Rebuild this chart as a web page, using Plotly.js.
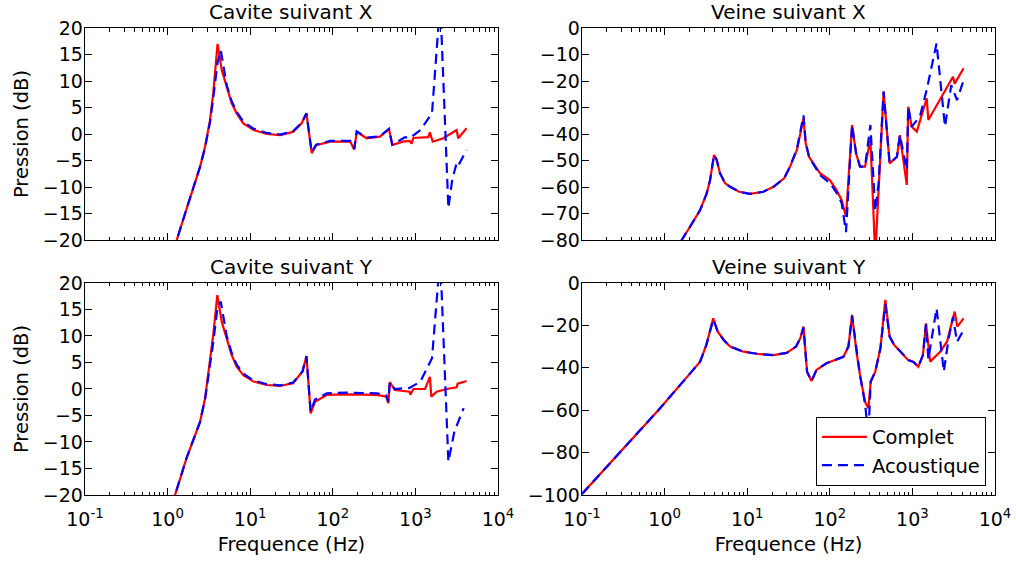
<!DOCTYPE html>
<html>
<head>
<meta charset="utf-8">
<script src="https://cdn.plot.ly/plotly-3.0.1.min.js"></script>
<style>html,body{margin:0;padding:0;background:#fff;overflow:hidden;}#chart{width:1016px;height:568px;}</style>
</head>
<body>
<div id="chart"></div>
<script>
// ---------- Data ----------
// Cavite suivant X
var cavX_f_complet = [1.0, 1.29, 1.7, 2.05, 2.47, 2.84, 3.26, 3.57, 3.85, 4.03, 4.52, 5.2, 5.97, 6.86, 8.26, 11, 15.9, 23, 33, 42, 48, 55.6, 63, 93, 163, 182, 195, 257, 372, 480, 525, 705, 850, 900, 945, 1430, 1500, 1620, 2180, 3160, 3300, 4170];
var cavX_complet   = [-25, -20, -14.1, -10.1, -6.2, -2.4, 2.6, 7.7, 13.3, 17.0, 12.1, 8.9, 5.8, 3.9, 2.0, 0.75, 0.0, -0.2, 0.4, 2.0, 3.9, -3.6, -2.1, -1.45, -1.45, -2.9, 0.4, -0.8, -0.5, 0.9, -2.1, -1.45, -1.3, -1.8, -0.75, -0.6, 0.3, -1.45, -0.8, 0.75, -0.8, 1.1];
var cavX_f_acoust  = [1.0, 1.29, 1.7, 2.05, 2.47, 2.84, 3.26, 3.57, 3.85, 4.03, 4.4, 4.8, 5.2, 5.97, 6.86, 8.26, 11, 15.9, 23, 33, 42, 48, 55.6, 63, 93, 163, 182, 195, 257, 372, 480, 525, 750, 850, 1150, 1590, 2000, 2510, 2800, 3160, 3300, 4170];
var cavX_acoust    = [-25, -20, -14.1, -10.1, -6.2, -2.6, 2.2, 6.8, 11.0, 13.5, 15.8, 12.5, 9.2, 6.2, 4.2, 2.3, 1.0, 0.2, -0.1, 0.5, 2.1, 3.9, -3.4, -2.0, -1.3, -1.3, -2.8, 0.5, -0.7, -0.4, 1.0, -2.0, -0.6, -0.8, 0.75, 3.9, 25, -14, -8.5, -5.5, -6.0, -3.0];

// Veine suivant X
var veiX_f_complet = [1.3, 1.61, 2.03, 2.69, 3.23, 3.55, 3.96, 4.27, 4.68, 5.4, 6.2, 8.0, 10.8, 15.7, 20.8, 28, 33, 40, 44, 48, 51, 56, 76, 100, 120, 139, 157, 186, 208, 232, 267, 310, 355, 390, 448, 530, 650, 705, 855, 890, 980, 1130, 1490, 1560, 2240, 3100, 3250, 4170];
var veiX_complet   = [-86, -80, -75, -68.7, -62.4, -57.4, -47.9, -49.8, -54.8, -58.6, -59.9, -61.8, -62.6, -61.8, -59.9, -56.7, -52.3, -46, -39.7, -34, -43.5, -48.6, -54.8, -57.4, -61.1, -64.9, -71.2, -36.6, -47.3, -52.3, -52.3, -42, -86, -58.6, -24, -51.1, -48.6, -40.4, -59.2, -29.7, -37.2, -39.1, -26.5, -34.7, -25.9, -18.4, -21, -15.2];
var veiX_f_acoust  = [1.3, 1.61, 2.03, 2.69, 3.23, 3.55, 3.96, 4.27, 4.68, 5.4, 6.2, 8.0, 10.8, 15.7, 20.8, 28, 33, 40, 44, 48, 51, 56, 76, 100, 120, 139, 157, 186, 208, 232, 267, 310, 355, 390, 448, 530, 650, 705, 855, 890, 980, 1230, 1490, 1960, 2480, 2950, 3470, 4170];
var veiX_acoust    = [-86, -80, -75, -68.7, -62.4, -57.4, -47.9, -49.8, -54.8, -58.6, -59.9, -61.8, -62.6, -61.8, -59.9, -56.7, -52.3, -45.5, -39, -33, -43, -48.6, -55.5, -58.5, -62, -66, -77, -36.6, -47.3, -52.3, -52.3, -36.6, -69, -58.6, -24, -51.1, -48.6, -40.4, -53.5, -29.7, -37.2, -33.5, -23.3, -5.8, -37.2, -21.6, -27.2, -19.7];

// Cavite suivant Y
var cavY_f_complet = [1.0, 1.23, 1.7, 2.05, 2.47, 2.84, 3.1, 3.57, 3.85, 4.0, 4.52, 5.2, 5.97, 6.86, 8.26, 11, 15.9, 23, 33, 43, 48, 54, 61, 85, 148, 340, 445, 470, 490, 565, 850, 870, 945, 1310, 1500, 1560, 1810, 2400, 3160, 3250, 4170];
var cavY_complet   = [-25, -20, -13.0, -9.5, -6.2, -1.8, 2.6, 10.2, 15.2, 17.7, 12.7, 9.6, 6.4, 4.2, 2.6, 1.4, 0.75, 0.57, 1.1, 3.3, 6.2, -4.6, -2.4, -1.1, -1.0, -1.1, -1.45, -2.7, 1.3, -0.2, -0.5, -1.1, 0.0, 0.0, 2.3, -1.45, -0.5, 0.0, 0.3, 1.0, 1.5];
var cavY_f_acoust  = [1.0, 1.23, 1.7, 2.05, 2.47, 2.84, 3.1, 3.57, 3.85, 4.0, 4.4, 4.8, 5.2, 5.97, 6.86, 8.26, 11, 15.9, 23, 33, 43, 48, 54, 61, 85, 148, 340, 445, 470, 490, 565, 850, 1150, 1590, 2000, 2510, 2970, 3850];
var cavY_acoust    = [-25, -20, -13.0, -9.5, -6.2, -2.0, 2.0, 8.8, 13.0, 15.0, 16.5, 13.0, 10.0, 6.8, 4.6, 2.9, 1.6, 0.9, 0.7, 1.2, 3.3, 6.2, -4.3, -2.0, -0.8, -0.7, -0.8, -1.2, -2.4, 1.2, 0.0, 0.2, 1.4, 5.8, 25, -13.7, -8.0, -3.6];

// Veine suivant Y
var veiY_f_complet = [0.1, 0.3, 0.88, 2.0, 2.69, 3.2, 3.54, 3.88, 4.4, 5.2, 6.2, 9.0, 14.3, 20.8, 30, 39, 44, 48, 53, 60, 69, 91, 146, 168, 186, 210, 232, 267, 293, 313, 355, 410, 470, 530, 600, 785, 890, 1030, 1180, 1340, 1460, 1640, 2170, 2620, 3250, 3500, 4170];
var veiY_complet   = [-99.5, -79, -59.1, -43, -37.1, -29.2, -23, -16.7, -23, -26.9, -30, -32.4, -33.6, -34, -33, -30, -26, -20.6, -41.8, -46.2, -41, -37.9, -34.8, -30, -15.1, -32.4, -43.4, -56, -59.1, -46.5, -41.8, -30.8, -8, -25.3, -29.2, -34, -36.4, -37.3, -39.5, -34, -19, -37.1, -32.4, -27.7, -13.5, -20.6, -16.7];
var veiY_f_acoust  = [0.1, 0.3, 0.88, 2.0, 2.69, 3.2, 3.54, 3.88, 4.4, 5.2, 6.2, 9.0, 14.3, 20.8, 30, 39, 44, 48, 53, 60, 69, 91, 146, 168, 186, 210, 232, 267, 293, 313, 355, 410, 470, 530, 600, 785, 890, 1030, 1180, 1340, 1460, 1560, 1960, 2400, 2750, 3100, 3470, 4170];
var veiY_acoust    = [-99.5, -79, -59.1, -43, -37.1, -29.2, -23, -17.2, -23, -26.9, -30, -32.4, -33.6, -34, -33, -30, -26, -21, -41.8, -46.2, -41, -37.9, -34.8, -30, -15.5, -32.4, -43.4, -57, -72, -46.5, -41.8, -30.8, -10, -25.3, -29.2, -34, -36.4, -37.3, -39.5, -34, -19.5, -36, -11.9, -41.8, -26, -16, -27.8, -22.2];

var panelTitles = ['Cavite suivant X', 'Veine suivant X', 'Cavite suivant Y', 'Veine suivant Y'];
var seriesNames = ['Complet', 'Acoustique'];
var xTickVals = [0.1, 1, 10, 100, 1000, 10000];
var xTickText = ['10<sup>-1</sup>', '10<sup>0</sup>', '10<sup>1</sup>', '10<sup>2</sup>', '10<sup>3</sup>', '10<sup>4</sup>'];
var xTitle = 'Frequence (Hz)';
var yTitle = 'Pression (dB)';

// ---------- Build ----------
var minorVals = [];
for (var d = -1; d < 4; d++) { for (var k = 2; k <= 9; k++) { minorVals.push(k * Math.pow(10, d)); } }

var redLine = {color: '#ff0000', width: 2.2};
var blueLine = {color: '#0000ff', width: 2.2, dash: '10px,6px'};

var panels = [
  [cavX_f_complet, cavX_complet, cavX_f_acoust, cavX_acoust, 'x', 'y'],
  [veiX_f_complet, veiX_complet, veiX_f_acoust, veiX_acoust, 'x2', 'y2'],
  [cavY_f_complet, cavY_complet, cavY_f_acoust, cavY_acoust, 'x3', 'y3'],
  [veiY_f_complet, veiY_complet, veiY_f_acoust, veiY_acoust, 'x4', 'y4']
];
var traces = [];
panels.forEach(function (p, i) {
  var leg = (i === 3);
  traces.push({x: p[0], y: p[1], xaxis: p[4], yaxis: p[5], type: 'scatter', mode: 'lines',
    line: redLine, name: seriesNames[0], showlegend: leg, legendgroup: 'c'});
  traces.push({x: p[2], y: p[3], xaxis: p[4], yaxis: p[5], type: 'scatter', mode: 'lines',
    line: blueLine, name: seriesNames[1], showlegend: leg, legendgroup: 'a'});
});

var FONT = 'DejaVu Sans, sans-serif';
var TICK = {family: FONT, size: 19, color: '#000'};
var LABEL = {family: FONT, size: 19.5, color: '#000'};
function xAxis(domain, anchor, labels) {
  return {
    type: 'log', range: [-1, 4], domain: domain, anchor: anchor,
    showline: true, linecolor: '#000', linewidth: 1.3, mirror: 'allticks',
    ticks: 'inside', ticklen: 7, tickwidth: 1, tickcolor: '#000',
    tickmode: 'array', tickvals: xTickVals, ticktext: xTickText,
    showticklabels: labels, showgrid: false, zeroline: false,
    tickfont: TICK, ticklabelstandoff: 7,
    minor: {tickmode: 'array', tickvals: minorVals, ticks: 'inside', ticklen: 3.5, tickwidth: 1, tickcolor: '#000', showgrid: false},
    title: labels ? {text: xTitle, font: LABEL, standoff: 8} : {text: ''}
  };
}
function yAxis(domain, anchor, range, dtick, withTitle) {
  return {
    range: range, domain: domain, anchor: anchor, dtick: dtick, tick0: 0,
    showline: true, linecolor: '#000', linewidth: 1.3, mirror: 'allticks',
    ticks: 'inside', ticklen: 7, tickwidth: 1, tickcolor: '#000',
    showgrid: false, zeroline: false,
    tickfont: TICK, ticklabelstandoff: -3,
    title: withTitle ? {text: yTitle, font: LABEL, standoff: 9} : {text: ''}
  };
}

var topDom = [0.546, 1], botDom = [0, 0.454];
var leftDom = [0, 0.4538], rightDom = [0.5462, 1];

var annotations = panelTitles.map(function (t, i) {
  var ax = ['x', 'x2', 'x3', 'x4'][i], ay = ['y', 'y2', 'y3', 'y4'][i];
  return {text: t, xref: ax + ' domain', yref: ay + ' domain', x: 0.5, y: 1,
    xanchor: 'center', yanchor: 'bottom', yshift: 2, showarrow: false,
    font: {family: FONT, size: 20, color: '#000'}};
});

var layout = {
  width: 1016, height: 568,
  margin: {l: 85, r: 21, t: 28, b: 73},
  paper_bgcolor: '#fff', plot_bgcolor: '#fff',
  font: TICK,
  xaxis: xAxis(leftDom, 'y', false),
  xaxis2: xAxis(rightDom, 'y2', false),
  xaxis3: xAxis(leftDom, 'y3', true),
  xaxis4: xAxis(rightDom, 'y4', true),
  yaxis: yAxis(topDom, 'x', [-20, 20], 5, true),
  yaxis2: yAxis(topDom, 'x2', [-80, 0], 10, false),
  yaxis3: yAxis(botDom, 'x3', [-20, 20], 5, true),
  yaxis4: yAxis(botDom, 'x4', [-100, 0], 20, false),
  annotations: annotations,
  showlegend: true,
  legend: {x: 0.99, y: 0.02, xanchor: 'right', yanchor: 'bottom',
    bgcolor: '#fff', bordercolor: '#000', borderwidth: 1,
    font: {family: FONT, size: 19.5, color: '#000'},
    traceorder: 'grouped', tracegroupgap: 0, itemwidth: 45}
};

Plotly.newPlot('chart', traces, layout, {displayModeBar: false, staticPlot: true});
</script>
</body>
</html>
